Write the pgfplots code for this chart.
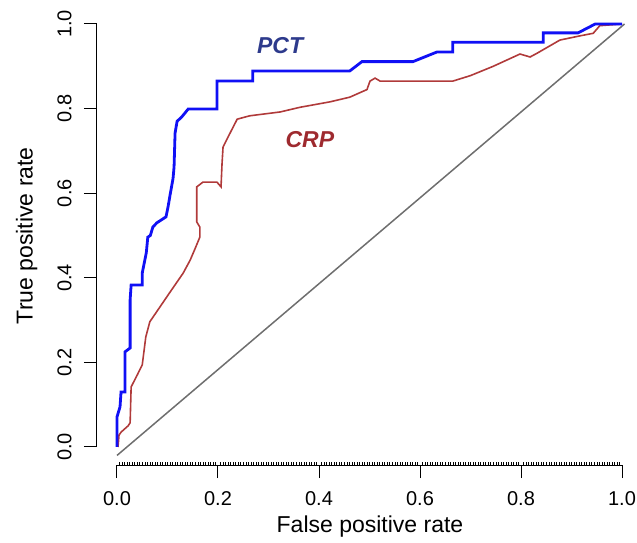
\documentclass[border=0pt]{standalone}
\usepackage{fontspec}
\setmainfont{Liberation Sans}
\usepackage{pgfplots}
\pgfplotsset{compat=1.18}
\definecolor{pctline}{HTML}{1010F5}
\definecolor{crpline}{HTML}{B03A3A}
\definecolor{pcttext}{HTML}{2D3A8C}
\definecolor{crptext}{HTML}{9E2A2F}
\definecolor{diag}{HTML}{6E6E6E}
\newcommand{\bigf}{\fontsize{23}{27}\selectfont}
\newcommand{\tickf}{\fontsize{20}{24}\selectfont}

\begin{document}
\begin{tikzpicture}
\begin{axis}[
  scale only axis,
  width=525pt, height=441pt,
  xmin=-0.0396, xmax=1, ymin=-0.0426, ymax=1,
  clip=false,
  axis lines=left,
  axis line style={-, line width=1pt},
  x axis line style={shorten <=20pt},
  y axis line style={shorten <=18pt},
  tick align=outside,
  major tick length=13pt,
  minor tick length=3pt,
  every tick/.style={black, line width=1pt},
  minor x tick num=39,
  minor x tick style={yshift=3pt, line width=0.5pt},
  xtick={0,0.2,0.4,0.6,0.8,1},
  ytick={0,0.2,0.4,0.6,0.8,1},
  xticklabels={0.0,0.2,0.4,0.6,0.8,1.0},
  yticklabels={0.0,0.2,0.4,0.6,0.8,1.0},
  tick label style={font=\tickf},
  xticklabel style={anchor=north, yshift=-10pt},
  yticklabel style={rotate=90, anchor=south, yshift=9pt},
  xlabel={False positive rate},
  ylabel={True positive rate},
  label style={font=\bigf},
  xlabel style={at={(axis description cs:0.52,0)}, anchor=north, yshift=-47pt},
  ylabel style={at={(axis description cs:-0.107,0.52)}, anchor=south},
]
\addplot[diag, line width=1.5pt] coordinates {(0,-0.02) (1.005,1)};

\addplot[crpline, line width=1.6pt] coordinates {
(0.002,0) (0.004,0.028) (0.008,0.035) (0.022,0.050) (0.026,0.057)
(0.028,0.142) (0.040,0.170) (0.050,0.194) (0.057,0.260) (0.065,0.296)
(0.085,0.331) (0.105,0.366) (0.131,0.411) (0.145,0.442) (0.155,0.470)
(0.164,0.496) (0.164,0.520) (0.158,0.532) (0.158,0.615) (0.170,0.626)
(0.198,0.626) (0.206,0.615) (0.208,0.670) (0.210,0.709) (0.220,0.733)
(0.238,0.775) (0.263,0.783) (0.323,0.792) (0.362,0.803) (0.422,0.816)
(0.461,0.827) (0.495,0.845) (0.501,0.865) (0.511,0.872) (0.521,0.865)
(0.665,0.865) (0.700,0.878) (0.745,0.900) (0.798,0.929) (0.818,0.922)
(0.832,0.931) (0.877,0.962) (0.917,0.972) (0.943,0.978) (0.956,0.996)
(1,1)
};

\addplot[pctline, line width=2.8pt] coordinates {
(0,0) (0,0.071) (0.006,0.095) (0.008,0.130) (0.016,0.130)
(0.016,0.225) (0.026,0.234) (0.026,0.348) (0.028,0.383) (0.050,0.383)
(0.050,0.411) (0.058,0.459) (0.061,0.496) (0.066,0.500) (0.071,0.520)
(0.079,0.530) (0.097,0.544) (0.101,0.567) (0.105,0.595) (0.111,0.635)
(0.113,0.662) (0.115,0.742) (0.119,0.770) (0.128,0.780) (0.141,0.799)
(0.198,0.799) (0.198,0.865) (0.269,0.865) (0.269,0.889) (0.461,0.889)
(0.485,0.911) (0.586,0.911) (0.634,0.934) (0.665,0.934) (0.665,0.957)
(0.844,0.957) (0.844,0.979) (0.913,0.979) (0.947,1.0) (1,1)
};

\node[font=\bigf\bfseries\itshape, text=pcttext] at (axis cs:0.323,0.95) {PCT};
\node[font=\bigf\bfseries\itshape, text=crptext] at (axis cs:0.382,0.726) {CRP};
\end{axis}
\pgfresetboundingbox
\path (current axis.south west) ++(-97pt,-78pt) rectangle ++(637pt,543pt);
\end{tikzpicture}
\end{document}
